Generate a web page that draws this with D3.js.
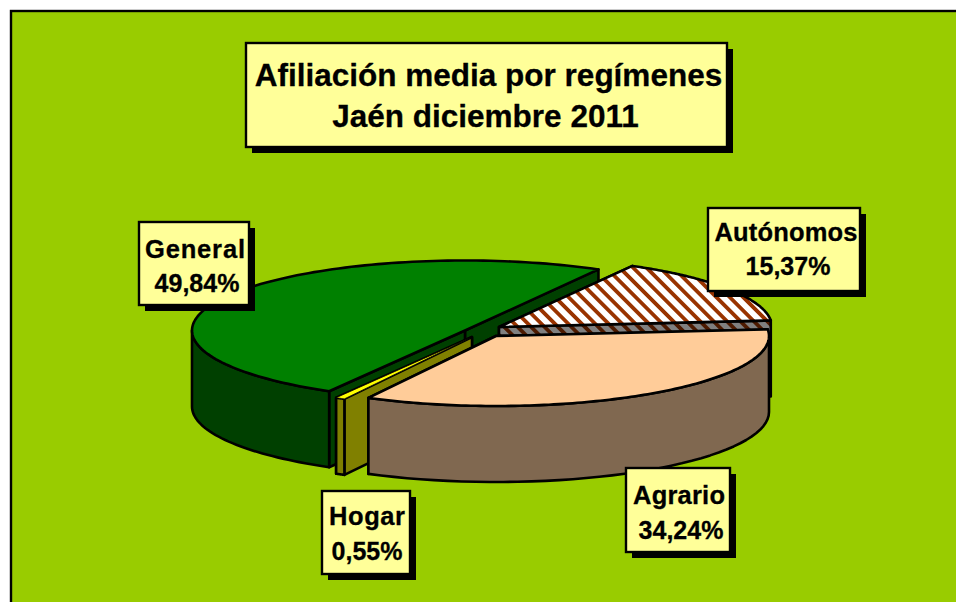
<!DOCTYPE html>
<html><head><meta charset="utf-8">
<style>html,body{margin:0;padding:0;background:#fff}svg{display:block}text{font-family:"Liberation Sans",Arial,sans-serif;font-weight:bold;fill:#000;stroke:#000;stroke-width:.3}</style>
<script src="https://cdnjs.cloudflare.com/ajax/libs/d3/7.8.5/d3.min.js"></script>
</head><body><svg id="c" width="956" height="602"></svg>
<script>
const categories = ["Agrario","Hogar","General","Autónomos"];
const values = [34.24,0.55,49.84,15.37];
const titleLines = ["Afiliación media por regímenes","Jaén diciembre 2011"];

// layout
const topFills = {Agrario:"#FFCC99",Hogar:"#FFFF00",General:"#008000",Autónomos:"url(#hatchTop)"};
const sideFills = {Agrario:"#806850",Hogar:"#808000",General:"#004000",Autónomos:"url(#hatchSide)"};
const centres = {Agrario:[496,336],Hogar:[472,337],General:[465,330.5],Autónomos:[499,327]};
const drawOrder = ["General","Autónomos","Hogar","Agrario"];
const labelBoxes = {
  General:{x:139,y:222,w:110,h:83,l1:[195,258],l2:[197,292],nw:100},
  Autónomos:{x:708,y:208,w:152,h:83,l1:[786,241],l2:[788,275],nw:143},
  Hogar:{x:322,y:491,w:88,h:83,l1:[367,525],l2:[367,560],nw:76},
  Agrario:{x:626,y:468,w:104,h:84,l1:[679,504],l2:[681,539],nw:92}
};
const titleCentres = [488.5,485.5];
const titleBaselines = [86,127];
const rx=273, ry=70, depth=76;

const svg=d3.select("#c");
const defs=svg.append("defs");
function hatch(id,bg,fg){
  const p=defs.append("pattern").attr("id",id).attr("patternUnits","userSpaceOnUse")
    .attr("width",9.5).attr("height",9.5).attr("patternTransform","rotate(-45)");
  p.append("rect").attr("width",9.5).attr("height",9.5).attr("fill",bg);
  p.append("rect").attr("width",3.8).attr("height",9.5).attr("fill",fg);
}
hatch("hatchTop","#ffffff","#993300");
hatch("hatchSide","#808080","#4d1a00");

// frame
svg.append("rect").attr("x",11).attr("y",11).attr("width",960).attr("height",610)
  .attr("fill","#99CC00").attr("stroke","#000").attr("stroke-width",2.4);

const sx=d3.scaleLinear().domain([-1,1]).range([-rx,rx]);
const sy=d3.scaleLinear().domain([-1,1]).range([-ry,ry]);
const pie=d3.pie().sort(null).startAngle(-5.4*Math.PI/180).endAngle(-5.4*Math.PI/180+2*Math.PI);
const arcs=pie(values);
const line=d3.line();
const g=svg.append("g");
const style=(sel,fill,w)=>sel.attr("fill",fill).attr("stroke","#000").attr("stroke-width",w||2.6).attr("stroke-linejoin","round");

drawOrder.forEach(name=>{
  const a=arcs[categories.indexOf(name)], [cx,cy]=centres[name];
  const pt=t=>[cx+sx(Math.cos(t)),cy+sy(Math.sin(t))];
  const down=p=>[p[0],p[1]+depth];
  const c=[cx,cy], ps=pt(a.startAngle), pe=pt(a.endAngle);
  // cut walls, rear one first
  [ps,pe].sort((p,q)=>p[1]-q[1]).forEach(p=>{
    style(g.append("path").attr("d",line([c,p,down(p),down(c)])+"Z"),sideFills[name]);
  });
  // outer rim (front half only)
  const s=a.startAngle,e=a.endAngle;
  [[0,Math.PI],[2*Math.PI,3*Math.PI]].forEach(([lo,hi])=>{
    const u=Math.max(s,lo),v=Math.min(e,hi);
    if(v>u){
      const up=d3.range(0,41).map(i=>pt(u+(v-u)*i/40)), dn=up.map(down).reverse();
      style(g.append("path").attr("d",line(up.concat(dn))+"Z"),sideFills[name]);
    }
  });
  // top
  const ts=d3.range(0,121).map(i=>s+(e-s)*i/120);
  style(g.append("path").attr("d",line([c].concat(ts.map(pt)))+"Z"),topFills[name],name==="Hogar"?0.8:2.6);
});

function box(x,y,w,h,sh){
  svg.append("rect").attr("x",x+sh).attr("y",y+sh).attr("width",w).attr("height",h).attr("fill","#000");
  svg.append("rect").attr("x",x).attr("y",y).attr("width",w).attr("height",h).attr("fill","#FFFF99").attr("stroke","#000").attr("stroke-width",2.4);
}
box(246,43,481,104,6);
titleLines.forEach((t,i)=>svg.append("text").attr("x",titleCentres[i]).attr("y",titleBaselines[i]).attr("text-anchor","middle").attr("font-size",31.5).text(t));

const pct=d3.format(".2f");
["General","Autónomos","Hogar","Agrario"].forEach(name=>{
  const b=labelBoxes[name], v=values[categories.indexOf(name)];
  box(b.x,b.y,b.w,b.h,6);
  svg.append("text").attr("x",b.l1[0]).attr("y",b.l1[1]).attr("text-anchor","middle").attr("font-size",25.5).attr("textLength",b.nw).text(name);
  svg.append("text").attr("x",b.l2[0]).attr("y",b.l2[1]).attr("text-anchor","middle").attr("font-size",25).text(pct(v).replace(".",",")+"%");
});
</script></body></html>
